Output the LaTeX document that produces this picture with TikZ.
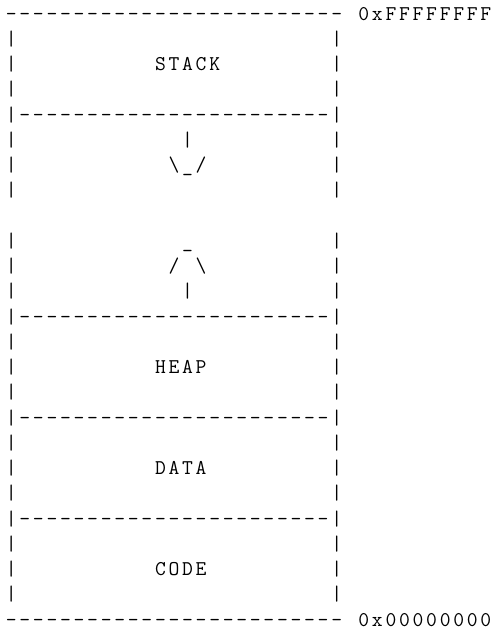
\documentclass[tikz,border=0pt]{standalone}
\newlength\cw
\setlength\cw{13.56pt}
\newcommand\gl[1]{\makebox[\cw][c]{#1}}
\newcommand\gap[1]{\hspace*{#1\cw}}
\newcommand\dashrun[1]{\foreach\k in {1,...,#1}{\gl{-}}}
\newcommand\blankrow{\gl{|}\gap{23}\gl{|}}
\newcommand\divrow{\gl{|}\dashrun{23}\gl{|}}
\begin{document}
\begin{tikzpicture}[x=1pt,y=-1pt,
  asciirow/.style={anchor=base west,inner sep=0pt,outer sep=0pt,
    font=\fontsize{21}{25}\selectfont\ttfamily}]
\useasboundingbox (0,0) rectangle (493,630);
\def\bx{4.5}
\def\by{20}
\def\lp{25.25}
\node[asciirow] (r0)  at (\bx,{\by+\lp*0})  {\dashrun{25}\gl{ }\gl{0}\gl{x}\gl{F}\gl{F}\gl{F}\gl{F}\gl{F}\gl{F}\gl{F}\gl{F}};
\node[asciirow] (r1)  at (\bx,{\by+\lp*1})  {\blankrow};
\node[asciirow] (r2)  at (\bx,{\by+\lp*2})  {\gl{|}\gap{10}\gl{S}\gl{T}\gl{A}\gl{C}\gl{K}\gap{8}\gl{|}};
\node[asciirow] (r3)  at (\bx,{\by+\lp*3})  {\blankrow};
\node[asciirow] (r4)  at (\bx,{\by+\lp*4})  {\divrow};
\node[asciirow] (r5)  at (\bx,{\by+\lp*5})  {\gl{|}\gap{12}\gl{|}\gap{10}\gl{|}};
\node[asciirow] (r6)  at (\bx,{\by+\lp*6})  {\gl{|}\gap{11}\gl{\textbackslash}\gl{\_}\gl{/}\gap{9}\gl{|}};
\node[asciirow] (r7)  at (\bx,{\by+\lp*7})  {\blankrow};
\node[asciirow] (r9)  at (\bx,{\by+\lp*9})  {\gl{|}\gap{12}\gl{\_}\gap{10}\gl{|}};
\node[asciirow] (r10) at (\bx,{\by+\lp*10}) {\gl{|}\gap{11}\gl{/}\gl{ }\gl{\textbackslash}\gap{9}\gl{|}};
\node[asciirow] (r11) at (\bx,{\by+\lp*11}) {\gl{|}\gap{12}\gl{|}\gap{10}\gl{|}};
\node[asciirow] (r12) at (\bx,{\by+\lp*12}) {\divrow};
\node[asciirow] (r13) at (\bx,{\by+\lp*13}) {\blankrow};
\node[asciirow] (r14) at (\bx,{\by+\lp*14}) {\gl{|}\gap{10}\gl{H}\gl{E}\gl{A}\gl{P}\gap{9}\gl{|}};
\node[asciirow] (r15) at (\bx,{\by+\lp*15}) {\blankrow};
\node[asciirow] (r16) at (\bx,{\by+\lp*16}) {\divrow};
\node[asciirow] (r17) at (\bx,{\by+\lp*17}) {\blankrow};
\node[asciirow] (r18) at (\bx,{\by+\lp*18}) {\gl{|}\gap{10}\gl{D}\gl{A}\gl{T}\gl{A}\gap{9}\gl{|}};
\node[asciirow] (r19) at (\bx,{\by+\lp*19}) {\blankrow};
\node[asciirow] (r20) at (\bx,{\by+\lp*20}) {\divrow};
\node[asciirow] (r21) at (\bx,{\by+\lp*21}) {\blankrow};
\node[asciirow] (r22) at (\bx,{\by+\lp*22}) {\gl{|}\gap{10}\gl{C}\gl{O}\gl{D}\gl{E}\gap{9}\gl{|}};
\node[asciirow] (r23) at (\bx,{\by+\lp*23}) {\blankrow};
\node[asciirow] (r24) at (\bx,{\by+\lp*24}) {\dashrun{25}\gl{ }\gl{0}\gl{x}\gl{0}\gl{0}\gl{0}\gl{0}\gl{0}\gl{0}\gl{0}\gl{0}};
\end{tikzpicture}
\end{document}
